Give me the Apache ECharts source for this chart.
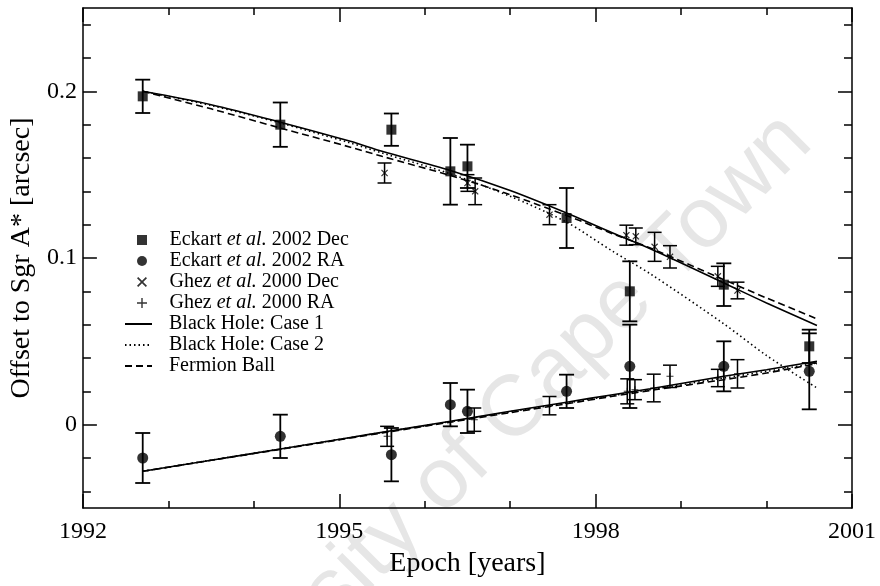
<!DOCTYPE html>
<html>
<head>
<meta charset="utf-8">
<script src="https://cdn.jsdelivr.net/npm/echarts@6/dist/echarts.min.js"></script>
<style>html,body{margin:0;padding:0;background:#fff}#c{width:880px;height:586px}</style>
</head>
<body>
<div id="c"></div>
<script>
// ---- data ----
const xTicks = [1992, 1995, 1998, 2001];
const yLabelValues = [0, 0.1, 0.2];
const yMinorValues = [-0.04, -0.02, 0.02, 0.04, 0.06, 0.08, 0.12, 0.14, 0.16, 0.18, 0.22, 0.24];

const eckartX = [1992.70, 1994.31, 1995.61, 1996.30, 1996.50, 1997.66, 1998.40, 1999.50, 2000.50];
const eckartDec = [0.197, 0.180, 0.177, 0.152, 0.155, 0.124, 0.080, 0.084, 0.047];
const eckartDecErr = [0.010, 0.0133, 0.0097, 0.020, 0.013, 0.018, 0.018, 0.0128, 0.010];
const eckartRA = [-0.020, -0.007, -0.018, 0.012, 0.008, 0.020, 0.035, 0.035, 0.032];
const eckartRAErr = [0.015, 0.013, 0.016, 0.013, 0.013, 0.010, 0.025, 0.015, 0.0228];

const ghezDecX = [1995.53, 1996.50, 1996.59, 1997.46, 1998.36, 1998.47, 1998.69, 1998.87, 1999.43, 1999.66];
const ghezDec = [0.151, 0.145, 0.140, 0.126, 0.1137, 0.113, 0.1067, 0.1007, 0.089, 0.0805];
const ghezDecErr = [0.006, 0.005, 0.008, 0.006, 0.006, 0.005, 0.0087, 0.0067, 0.006, 0.005];
const ghezRAX = [1995.56, 1996.58, 1997.46, 1998.37, 1998.46, 1998.68, 1998.87, 1999.43, 1999.66];
const ghezRA = [-0.007, 0.003, 0.0114, 0.020, 0.021, 0.022, 0.029, 0.028, 0.0305];
const ghezRAErr = [0.006, 0.007, 0.0055, 0.0075, 0.006, 0.0083, 0.0067, 0.0052, 0.0085];

const modelX = [1992.70, 1993.50, 1994.31, 1995.13, 1995.50, 1996.30, 1997.00, 1997.66, 1998.20, 1998.64, 1999.50, 2000.00, 2000.59];
const bh1Dec = [0.200, 0.192, 0.1815, 0.1700, 0.1640, 0.1525, 0.1405, 0.1270, 0.1150, 0.1055, 0.0850, 0.0730, 0.0595];
const bh2Dec = [0.200, 0.1915, 0.1810, 0.1690, 0.1630, 0.1505, 0.1370, 0.1215, 0.1040, 0.0905, 0.0605, 0.0415, 0.0220];
const fbDec  = [0.200, 0.1895, 0.1780, 0.1665, 0.1610, 0.1495, 0.1380, 0.1255, 0.1145, 0.1060, 0.0870, 0.0760, 0.0635];
const bh1RA = [-0.028, -0.0213, -0.0146, -0.0077, -0.0046, 0.0020, 0.0080, 0.0135, 0.0180, 0.0215, 0.0290, 0.0330, 0.0380];
const bh2RA = [-0.028, -0.0213, -0.0146, -0.0078, -0.0047, 0.0018, 0.0077, 0.0130, 0.0175, 0.0210, 0.0280, 0.0320, 0.0370];
const fbRA  = [-0.028, -0.0214, -0.0148, -0.0080, -0.0050, 0.0015, 0.0072, 0.0125, 0.0170, 0.0205, 0.0270, 0.0310, 0.0366];

const names = {
  ed: 'Eckart et al. 2002 Dec', er: 'Eckart et al. 2002 RA',
  gd: 'Ghez et al. 2000 Dec', gr: 'Ghez et al. 2000 RA',
  b1: 'Black Hole: Case 1', b2: 'Black Hole: Case 2', fb: 'Fermion Ball'
};
const watermark = 'University of Cape Town';

// ---- helpers ----
const FONT = '"Liberation Serif", "Times New Roman", serif';
const pts = (xs, ys) => xs.map((x, i) => [x, ys[i]]);
const errs = (xs, ys, es) => xs.map((x, i) => [x, ys[i] - es[i], ys[i] + es[i]]);
const SQSYM = 'path://M0,0H10V10H0Z';
const XSYM = 'path://M0,1.2L1.2,0L5,3.8L8.8,0L10,1.2L6.2,5L10,8.8L8.8,10L5,6.2L1.2,10L0,8.8L3.8,5Z';
const PSYM = 'path://M4.3,0H5.7V4.3H10V5.7H5.7V10H4.3V5.7H0V4.3H4.3Z';

function errRender(capW, lw) {
  return function (params, api) {
    const x = api.value(0), lo = api.value(1), hi = api.value(2);
    const a = api.coord([x, hi]), b = api.coord([x, lo]);
    const h = capW / 2;
    const st = { stroke: '#000', lineWidth: lw };
    return { type: 'group', children: [
      { type: 'line', shape: { x1: a[0], y1: a[1], x2: b[0], y2: b[1] }, style: st },
      { type: 'line', shape: { x1: a[0] - h, y1: a[1], x2: a[0] + h, y2: a[1] }, style: st },
      { type: 'line', shape: { x1: b[0] - h, y1: b[1], x2: b[0] + h, y2: b[1] }, style: st }
    ]};
  };
}
function errSeries(id, data, capW, lw) {
  return { type: 'custom', name: id, renderItem: errRender(capW, lw), data: data,
    encode: { x: 0, y: [1, 2] }, silent: true, z: 3, legendHoverLink: false };
}
function lineSeries(name, data, type) {
  return { type: 'line', name: name, data: data, symbol: 'none', smooth: 0.3,
    silent: true, z: 4, itemStyle: { color: '#000', opacity: 0 },
    lineStyle: { color: '#000', width: 1.6, type: type } };
}
function legendFmt(name) {
  const m = name.match(/^(\S+) et al\.(.*)$/);
  if (m) return '{p|}{n|' + m[1] + ' }{i|et al.}{n|' + m[2] + '}';
  return '{q|}{n|' + name + '}';
}
const rich = {
  p: { width: 9 }, q: { width: 12 },
  n: { fontFamily: FONT, fontSize: 20, color: '#000' },
  i: { fontFamily: FONT, fontSize: 20, color: '#000', fontStyle: 'italic' }
};

const axisLineStyle = { color: '#000', width: 1.5 };
function xAxisCfg(pos, showLabels) {
  return { type: 'value', position: pos, min: xTicks[0], max: xTicks[xTicks.length - 1], interval: 3,
    axisLine: { show: true, onZero: false, lineStyle: axisLineStyle },
    axisTick: { show: true, inside: true, length: 14, lineStyle: { color: '#000', width: 1.5 } },
    minorTick: { show: true, splitNumber: 3, length: 7, lineStyle: { color: '#000', width: 1.5 } },
    axisLabel: { show: showLabels, fontFamily: FONT, fontSize: 24, color: '#000', margin: 12,
      formatter: v => String(v) },
    splitLine: { show: false }, minorSplitLine: { show: false },
    name: showLabels ? 'Epoch [years]' : '', nameLocation: 'middle', nameGap: 42,
    nameTextStyle: { fontFamily: FONT, fontSize: 28, color: '#000' } };
}
function yAxisMajor(pos, showLabels) {
  return { type: 'value', position: pos, min: -0.05, max: 0.25,
    axisLine: { show: true, onZero: false, lineStyle: axisLineStyle },
    axisTick: { show: true, inside: true, length: 14, customValues: yLabelValues,
      lineStyle: { color: '#000', width: 1.5 } },
    axisLabel: { show: showLabels, customValues: yLabelValues, fontFamily: FONT, fontSize: 24,
      color: '#000', margin: 6, formatter: v => (v === 0 ? '0' : String(Math.round(v * 10) / 10)) },
    splitLine: { show: false },
    name: showLabels ? 'Offset to Sgr A* [arcsec]' : '', nameLocation: 'middle', nameGap: 46,
    nameTextStyle: { fontFamily: FONT, fontSize: 28, color: '#000' } };
}
function yAxisMinor(pos) {
  return { type: 'value', position: pos, min: -0.05, max: 0.25,
    axisLine: { show: false, onZero: false },
    axisTick: { show: true, inside: true, length: 8, customValues: yMinorValues,
      lineStyle: { color: '#000', width: 1.5 } },
    axisLabel: { show: false }, splitLine: { show: false } };
}

const chart = echarts.init(document.getElementById('c'), null, { renderer: 'canvas' });
chart.setOption({
  animation: false,
  backgroundColor: '#fff',
  grid: { left: 82, right: 28, top: 8, bottom: 78 },
  graphic: [{
    type: 'text', x: 470, y: 456, rotation: Math.PI / 4, z: -10, silent: true,
    style: { text: watermark, font: '86px "Liberation Sans", Arial, sans-serif',
      fill: '#e6e6e6', align: 'center', verticalAlign: 'middle' }
  }],
  legend: [{
    orient: 'vertical', left: 132, top: 225, itemWidth: 27, itemHeight: 10, itemGap: 1,
    selectedMode: false, data: [names.ed, names.er, names.gd, names.gr],
    formatter: legendFmt, textStyle: { rich: rich, fontFamily: FONT, fontSize: 20, color: '#000' }
  }, {
    orient: 'vertical', left: 119, top: 309, itemWidth: 27, itemHeight: 9, itemGap: 1,
    selectedMode: false, data: [names.b1, names.b2, names.fb],
    itemStyle: { opacity: 0 },
    formatter: legendFmt, textStyle: { rich: rich, fontFamily: FONT, fontSize: 20, color: '#000' }
  }],
  xAxis: [xAxisCfg('bottom', true), xAxisCfg('top', false)],
  yAxis: [yAxisMajor('left', true), yAxisMinor('left'), yAxisMajor('right', false), yAxisMinor('right')],
  series: [
    lineSeries(names.b1, pts(modelX, bh1Dec), 'solid'),
    lineSeries(names.b1, pts(modelX, bh1RA), 'solid'),
    lineSeries(names.b2, pts(modelX, bh2Dec), [1.5, 3]),
    lineSeries(names.b2, pts(modelX, bh2RA), [1.5, 3]),
    lineSeries(names.fb, pts(modelX, fbDec), [7, 4]),
    lineSeries(names.fb, pts(modelX, fbRA), [7, 4]),
    errSeries('errED', errs(eckartX, eckartDec, eckartDecErr), 15, 1.8),
    errSeries('errER', errs(eckartX, eckartRA, eckartRAErr), 15, 1.8),
    errSeries('errGD', errs(ghezDecX, ghezDec, ghezDecErr), 14, 1.5),
    errSeries('errGR', errs(ghezRAX, ghezRA, ghezRAErr), 14, 1.5),
    { type: 'scatter', name: names.ed, data: pts(eckartX, eckartDec), symbol: SQSYM, symbolSize: 10,
      itemStyle: { color: '#000' }, z: 5, silent: true },
    { type: 'scatter', name: names.er, data: pts(eckartX, eckartRA), symbol: 'circle', symbolSize: 11,
      itemStyle: { color: '#000' }, z: 5, silent: true },
    { type: 'scatter', name: names.gd, data: pts(ghezDecX, ghezDec), symbol: XSYM, symbolSize: 7,
      itemStyle: { color: '#000' }, z: 5, silent: true },
    { type: 'scatter', name: names.gr, data: pts(ghezRAX, ghezRA), symbol: PSYM, symbolSize: 7,
      itemStyle: { color: '#000' }, z: 5, silent: true }
  ]
});
</script>
</body>
</html>
